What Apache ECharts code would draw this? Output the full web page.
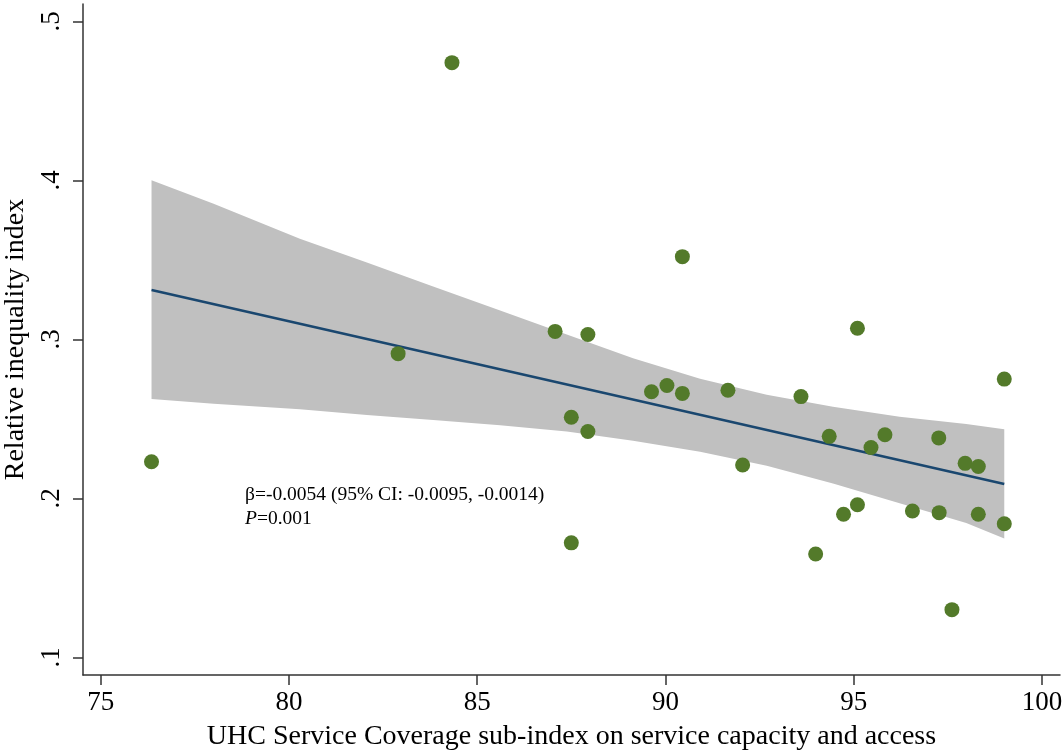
<!DOCTYPE html>
<html>
<head>
<meta charset="utf-8">
<script src="https://cdn.jsdelivr.net/npm/echarts@6/dist/echarts.min.js"></script>
<style>
html,body{margin:0;padding:0;background:#fff;}
#chart{width:1062px;height:750px;}
</style>
</head>
<body>
<div id="chart"></div>
<script>
// Scatter points: UHC sub-index (x) vs relative inequality index (y)
const pointX = [76.35, 82.90, 84.33, 87.07, 87.50, 87.50, 87.94, 87.94, 89.63, 90.04, 90.45, 90.45, 91.66, 92.05, 93.60, 93.99, 94.35, 94.73, 95.10, 95.10, 95.46, 95.83, 96.56, 97.26, 97.27, 97.61, 97.96, 98.31, 98.31, 99.00, 99.00];
const pointY = [0.223, 0.291, 0.474, 0.305, 0.251, 0.172, 0.303, 0.242, 0.267, 0.271, 0.352, 0.266, 0.268, 0.221, 0.264, 0.165, 0.239, 0.190, 0.307, 0.196, 0.232, 0.240, 0.192, 0.238, 0.191, 0.130, 0.222, 0.220, 0.190, 0.275, 0.184];

// Fitted line endpoints
const fitX = [76.35, 99.00];
const fitY = [0.331, 0.209];

// 95% CI band
const bandX     = [76.35, 78.00, 80.29, 82.07, 83.83, 85.61, 87.38, 89.14, 90.92, 92.69, 94.45, 96.22, 97.99, 99.00];
const bandUpper = [0.400, 0.3852, 0.3633, 0.3484, 0.3333, 0.3182, 0.3031, 0.2881, 0.2752, 0.2652, 0.2576, 0.2513, 0.2467, 0.2434];
const bandLower = [0.2625, 0.2595, 0.2560, 0.2524, 0.2492, 0.2460, 0.2420, 0.2362, 0.2293, 0.2205, 0.2094, 0.1969, 0.1845, 0.1748];

// Tick labels
const xTicks = [75, 80, 85, 90, 95, 100];
const yTicks = [0.1, 0.2, 0.3, 0.4, 0.5];

const xTitle = 'UHC Service Coverage sub-index on service capacity and access';
const yTitle = 'Relative inequality index';

const FONT = '"Liberation Serif", "Times New Roman", serif';

const chart = echarts.init(document.getElementById('chart'), null, {renderer: 'canvas'});

const bandPoly = bandX.map((x, i) => [x, bandUpper[i]])
  .concat(bandX.slice().reverse().map((x, i) => [x, bandLower[bandX.length - 1 - i]]));

const option = {
  animation: false,
  backgroundColor: '#ffffff',
  grid: {left: 83, right: 2, top: 4, bottom: 75, containLabel: false, outerBoundsMode: 'none'},
  xAxis: {
    type: 'value',
    min: 74.53,
    max: 100.48,
    splitLine: {show: false},
    axisLine: {show: true, onZero: false, lineStyle: {color: '#333333', width: 1.5}},
    axisTick: {show: true, length: 10, customValues: xTicks, lineStyle: {color: '#333333', width: 1.5}},
    axisLabel: {customValues: xTicks, color: '#000', fontFamily: FONT, fontSize: 27, margin: 14},
    name: xTitle,
    nameLocation: 'middle',
    nameGap: 48,
    nameTextStyle: {color: '#000', fontFamily: FONT, fontSize: 28}
  },
  yAxis: {
    type: 'value',
    min: 0.0889,
    max: 0.5109,
    splitLine: {show: false},
    axisLine: {show: true, onZero: false, lineStyle: {color: '#333333', width: 1.5}},
    axisTick: {show: true, length: 10, customValues: yTicks, lineStyle: {color: '#333333', width: 1.5}},
    axisLabel: {
      customValues: yTicks, rotate: 90, color: '#000', fontFamily: FONT, fontSize: 27, margin: 18,
      formatter: v => String(Math.round(v * 10) / 10).replace(/^0/, '')
    },
    name: yTitle,
    nameLocation: 'middle',
    nameGap: 48,
    nameRotate: 90,
    nameTextStyle: {color: '#000', fontFamily: FONT, fontSize: 28}
  },
  series: [
    {
      type: 'custom',
      name: 'CI',
      silent: true,
      z: 1,
      data: [0],
      renderItem: function (params, api) {
        const pts = bandPoly.map(p => api.coord(p));
        return {type: 'polygon', shape: {points: pts}, style: {fill: '#c0c0c0', stroke: null}};
      }
    },
    {
      type: 'line',
      name: 'Fit',
      z: 2,
      symbol: 'none',
      data: fitX.map((x, i) => [x, fitY[i]]),
      lineStyle: {color: '#1a476f', width: 2.5}
    },
    {
      type: 'scatter',
      name: 'Points',
      z: 3,
      symbolSize: 15,
      itemStyle: {color: '#537a2a', opacity: 1},
      data: pointX.map((x, i) => [x, pointY[i]])
    }
  ],
  graphic: [
    {
      type: 'text',
      left: 245,
      top: 483,
      z: 10,
      style: {
        text: 'β=-0.0054 (95% CI: -0.0095, -0.0014)\n{i|P}=0.001',
        fill: '#000',
        font: '19.5px ' + FONT,
        lineHeight: 24,
        rich: {i: {fontStyle: 'italic', fontFamily: FONT, fontSize: 19.5, fill: '#000'}}
      }
    }
  ]
};

chart.setOption(option);
</script>
</body>
</html>
